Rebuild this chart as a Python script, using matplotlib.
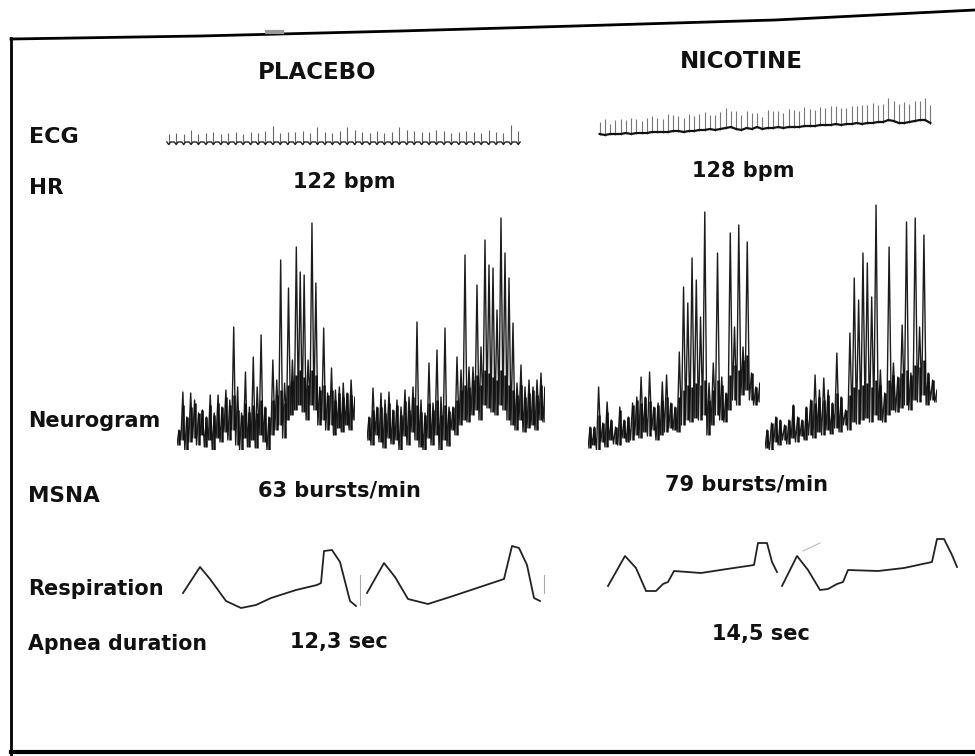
import matplotlib
matplotlib.use("Agg")
import matplotlib.pyplot as plt
import numpy as np

W, H = 975, 756

# ECG: spike height above baseline (px-like units), one value per beat
ecg_placebo = [8, 9, 8, 12, 8, 9, 10, 8, 9, 10, 8, 10, 9, 11, 16, 9,
               10, 10, 11, 9, 15, 10, 9, 11, 15, 12, 10, 9, 11, 9, 10, 15,
               12, 11, 10, 10, 12, 11, 9, 10, 11, 10, 9, 12, 10, 9, 17, 11]
ecg_nic_base = [1, 0, 1, 1, 1, 2, 1, 2, 2, 2, 3, 3, 3, 3, 4, 4,
                3, 4, 4, 5, 5, 6, 5, 6, 7, 8, 6, 5, 7, 6, 8, 6,
                7, 7, 8, 7, 8, 8, 8, 9, 9, 9, 10, 10, 10, 11, 10, 11,
                11, 12, 11, 12, 12, 13, 13, 15, 14, 12, 12, 13, 14, 15, 15, 12]
ecg_nic = [12, 16, 10, 14, 15, 13, 16, 14, 12, 15, 16, 14, 13, 18, 16, 15,
           14, 17, 15, 16, 18, 14, 15, 17, 20, 16, 18, 15, 17, 16, 14, 12,
           18, 17, 16, 15, 18, 17, 16, 19, 17, 16, 18, 17, 19, 18, 17, 16,
           18, 17, 19, 18, 20, 17, 18, 22, 20, 19, 21, 18, 20, 19, 22, 18]

# neurogram: peak (top) and trough (bottom) of each deflection
neuro_p1_top = [20, 58, 33, 57, 50, 37, 40, 33, 55, 37, 55, 43, 60, 50, 123, 63,
                37, 78, 43, 93, 63, 115, 43, 33, 90, 70, 190, 67, 162, 90, 203, 178,
                175, 90, 227, 167, 63, 122, 57, 82, 60, 63, 67, 57, 70, 53]
neuro_p1_bot = [5, 10, 0, 8, 12, 5, 15, 3, 10, 0, 12, 8, 18, 10, 20, 5,
                0, 12, 3, 10, 2, 15, 8, 0, 15, 20, 25, 12, 30, 35, 40, 45,
                38, 30, 45, 40, 25, 30, 20, 25, 15, 22, 18, 25, 20, 30]
neuro_p2_top = [33, 62, 43, 57, 50, 58, 40, 50, 43, 60, 53, 63, 128, 50, 37, 87,
                47, 100, 53, 122, 43, 43, 93, 80, 195, 83, 83, 165, 103, 210, 185, 182,
                140, 232, 197, 172, 127, 67, 85, 63, 70, 63, 70, 77, 63]
neuro_p2_bot = [10, 5, 15, 8, 2, 12, 6, 10, 0, 14, 5, 18, 10, 3, 0, 12,
                5, 15, 0, 10, 4, 20, 15, 25, 30, 28, 35, 40, 30, 45, 42, 38,
                35, 45, 40, 30, 25, 20, 30, 18, 22, 25, 20, 30, 28]
neuro_n1_top = [23, 23, 63, 27, 48, 30, 23, 43, 30, 33, 47, 53, 73, 53, 78, 43,
                47, 68, 75, 47, 43, 98, 163, 147, 192, 170, 133, 238, 67, 87, 197, 73,
                57, 217, 123, 225, 103, 208, 77, 63, 67]
neuro_n1_bot = [2, 5, 0, 8, 3, 10, 6, 5, 12, 8, 10, 15, 12, 18, 14, 20,
                10, 15, 18, 22, 20, 18, 25, 30, 28, 32, 30, 35, 15, 25, 35, 30,
                28, 40, 50, 45, 55, 60, 50, 45, 48]
neuro_n2_top = [20, 27, 33, 30, 25, 30, 45, 33, 30, 43, 50, 75, 60, 72, 60, 47,
                97, 53, 40, 117, 172, 150, 197, 187, 153, 245, 80, 57, 203, 87, 73, 125,
                228, 77, 232, 123, 215, 77, 70, 60]
neuro_n2_bot = [2, 0, 8, 5, 10, 6, 12, 8, 14, 10, 15, 12, 18, 15, 20, 16,
                22, 18, 25, 20, 28, 26, 30, 32, 28, 35, 30, 28, 35, 40, 38, 42,
                45, 40, 50, 48, 55, 45, 50, 48]

# respiration: time offset and amplitude, two apnea cycles per condition
resp_p1_t = [3, 20, 30, 46, 61, 76, 91, 116, 137, 141, 144, 152, 160, 170, 176]
resp_p1_v = [17, 43, 31, 9, 2, 5, 12, 20, 25, 27, 59, 60, 48, 9, 4]
resp_p2_t = [187, 204, 215, 228, 248, 273, 294, 321, 324, 332, 339, 347, 354, 360]
resp_p2_v = [17, 47, 33, 11, 6, 14, 21, 30, 31, 64, 62, 45, 12, 9]
resp_n1_t = [8, 25, 36, 46, 56, 63, 68, 74, 101, 127, 154, 158, 167, 172, 177]
resp_n1_v = [24, 54, 42, 19, 19, 26, 28, 39, 37, 41, 45, 67, 67, 48, 38]
resp_n2_t = [182, 197, 208, 220, 228, 237, 243, 248, 278, 304, 332, 337, 344, 352, 357]
resp_n2_v = [24, 54, 40, 20, 21, 26, 28, 40, 39, 42, 48, 71, 71, 55, 43]

fig = plt.figure(figsize=(W / 100, H / 100), dpi=100)
fig.patch.set_facecolor("white")
ax = fig.add_axes([0, 0, 1, 1])
ax.set_xlim(0, W)
ax.set_ylim(H, 0)
ax.axis("off")


def trace_ax(x0, x1, y_top, y_bot, xlim, ylim):
    a = fig.add_axes([x0 / W, 1 - y_bot / H, (x1 - x0) / W, (y_bot - y_top) / H])
    a.set_xlim(*xlim)
    a.set_ylim(*ylim)
    a.axis("off")
    a.patch.set_alpha(0)
    return a


# frame of the scanned page
ax.plot([11, 200, 400, 575, 775, 975], [39, 36, 31, 26, 20, 10], color="black", lw=2)
ax.plot([11, 11], [38, 756], color="black", lw=2)
ax.plot([11, 975], [752, 752], color="black", lw=3)
ax.plot([267, 282], [32, 32], color="#999999", lw=3)

# labels
txt = dict(family="DejaVu Sans", weight="bold", color="#111111", va="baseline")
ax.text(258, 79, "PLACEBO", fontsize=16.5, **txt)
ax.text(680, 68, "NICOTINE", fontsize=16.5, **txt)
ax.text(29, 143, "ECG", fontsize=16, **txt)
ax.text(29, 194, "HR", fontsize=15.5, **txt)
ax.text(293, 188, "122 bpm", fontsize=15, **txt)
ax.text(692, 177, "128 bpm", fontsize=15, **txt)
ax.text(28, 427, "Neurogram", fontsize=15, **txt)
ax.text(28, 502, "MSNA", fontsize=15.5, **txt)
ax.text(258, 497, "63 bursts/min", fontsize=15, **txt)
ax.text(665, 490, "79 bursts/min", fontsize=15, **txt)
ax.text(28, 595, "Respiration", fontsize=15, **txt)
ax.text(28, 650, "Apnea duration", fontsize=14.8, **txt)
ax.text(290, 648, "12,3 sec", fontsize=15, **txt)
ax.text(712, 640, "14,5 sec", fontsize=15, **txt)

# ECG placebo
n = len(ecg_placebo)
e1 = trace_ax(165, 522, 115, 150, (-0.5, n - 0.5), (-8, 27))
xs = np.arange(n)
e1.vlines(xs, -2, ecg_placebo, color="#666666", lw=0.8)
bx = np.column_stack([xs - 0.25, xs, xs + 0.25]).ravel()
by = np.tile([0, -2.5, 0], n)
e1.plot(bx, by, color="#222222", lw=1.0)

# ECG nicotine
n = len(ecg_nic)
e2 = trace_ax(597, 933, 95, 145, (-0.5, n - 0.5), (-10, 40))
xs = np.arange(n)
base = np.array(ecg_nic_base)
e2.vlines(xs, base - 1, base + np.array(ecg_nic), color="#777777", lw=0.8)
e2.plot(xs, base, color="#111111", lw=1.6)


# neurogram segments
def neurogram(x0, x1, top, bot):
    n = len(top)
    a = trace_ax(x0, x1, 200, 450, (0, n - 0.5), (0, 250))
    xs = np.arange(2 * n) * 0.5
    ys = np.empty(2 * n)
    ys[0::2] = bot
    ys[1::2] = top
    a.plot(xs, ys, color="#1c1c1c", lw=1.0)
    tops = np.array(top)
    bots = np.array(bot)
    a.vlines(xs[1::2], bots, np.minimum(tops, bots + 35), color="#111111", lw=1.8)


neurogram(177, 355, neuro_p1_top, neuro_p1_bot)
neurogram(367, 545, neuro_p2_top, neuro_p2_bot)
neurogram(588, 760, neuro_n1_top, neuro_n1_bot)
neurogram(765, 937, neuro_n2_top, neuro_n2_bot)

# respiration
r1 = trace_ax(180, 560, 520, 610, (0, 380), (0, 90))
r1.plot(resp_p1_t, resp_p1_v, color="#222222", lw=1.3)
r1.plot(resp_p2_t, resp_p2_v, color="#222222", lw=1.3)
r1.plot([180, 180], [35, 5], color="#aaaaaa", lw=0.8)
r1.plot([364, 364], [35, 17], color="#aaaaaa", lw=0.8)

r2 = trace_ax(600, 970, 520, 610, (0, 370), (0, 90))
r2.plot(resp_n1_t, resp_n1_v, color="#222222", lw=1.3)
r2.plot(resp_n2_t, resp_n2_v, color="#222222", lw=1.3)
r2.plot([203, 220], [59, 67], color="#bbbbbb", lw=0.8)

fig.savefig("out.png", dpi=100, facecolor="white")
